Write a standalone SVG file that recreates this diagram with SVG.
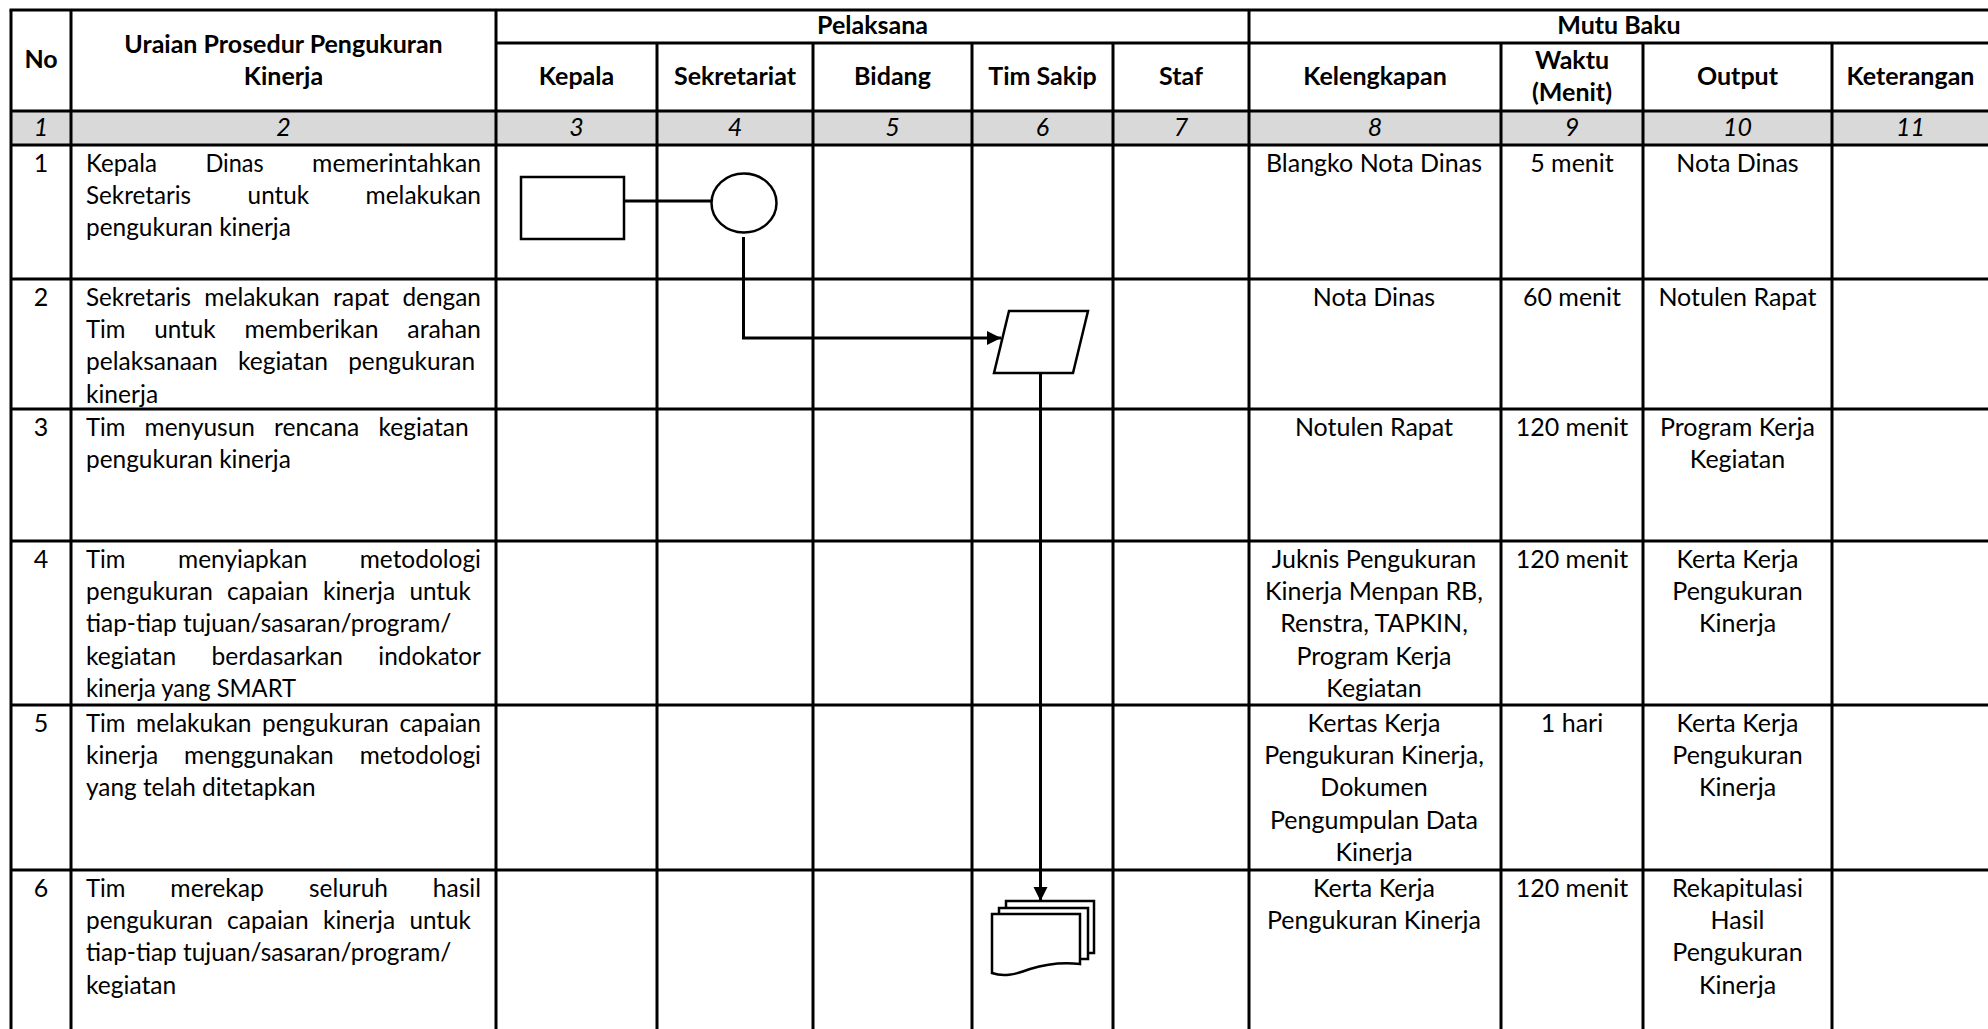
<svg xmlns="http://www.w3.org/2000/svg" width="1988" height="1029" viewBox="0 0 1988 1029">
<style>
text{font-family:Lato,"Liberation Sans",sans-serif;font-size:25px;fill:#000}
.b{font-weight:700}
.i{font-style:italic}
.c{text-anchor:middle}
.grid line{stroke:#000;stroke-width:3}
.shape{fill:#fff;stroke:#000;stroke-width:2.5}
.conn{fill:none;stroke:#000;stroke-width:3}
</style>
<defs>
<marker id="arrow" markerUnits="userSpaceOnUse" markerWidth="16" markerHeight="16" refX="14" refY="7" orient="auto">
<path d="M0,0 L14,7 L0,14 Z" fill="#000"/>
</marker>
</defs>
<rect width="1988" height="1029" fill="#fff"/>
<rect x="11" y="111" width="1990" height="34" fill="#d9d9d9"/>
<g id="table" class="grid">
<line x1="9.5" y1="10" x2="1995" y2="10"/>
<line x1="496" y1="43" x2="1995" y2="43"/>
<line x1="11" y1="111" x2="1995" y2="111"/>
<line x1="11" y1="145" x2="1995" y2="145"/>
<line x1="11" y1="279" x2="1995" y2="279"/>
<line x1="11" y1="409" x2="1995" y2="409"/>
<line x1="11" y1="541" x2="1995" y2="541"/>
<line x1="11" y1="705" x2="1995" y2="705"/>
<line x1="11" y1="870" x2="1995" y2="870"/>
<line x1="11" y1="10" x2="11" y2="1035"/>
<line x1="71" y1="10" x2="71" y2="1035"/>
<line x1="496" y1="10" x2="496" y2="1035"/>
<line x1="657" y1="43" x2="657" y2="1035"/>
<line x1="813" y1="43" x2="813" y2="1035"/>
<line x1="972" y1="43" x2="972" y2="1035"/>
<line x1="1113" y1="43" x2="1113" y2="1035"/>
<line x1="1249" y1="10" x2="1249" y2="1035"/>
<line x1="1501" y1="43" x2="1501" y2="1035"/>
<line x1="1643" y1="43" x2="1643" y2="1035"/>
<line x1="1832" y1="43" x2="1832" y2="1035"/>
</g>
<g id="header">
<text class="b c" x="41" y="68">No</text>
<text class="b c" x="283.5" y="53">Uraian Prosedur Pengukuran</text>
<text class="b c" x="283.5" y="85">Kinerja</text>
<text class="b c" x="872.5" y="34">Pelaksana</text>
<text class="b c" x="1619" y="34">Mutu Baku</text>
<text class="b c" x="576.5" y="85">Kepala</text>
<text class="b c" x="735" y="85">Sekretariat</text>
<text class="b c" x="892.5" y="85">Bidang</text>
<text class="b c" x="1042.5" y="85">Tim Sakip</text>
<text class="b c" x="1181" y="85">Staf</text>
<text class="b c" x="1375" y="85">Kelengkapan</text>
<text class="b c" x="1572" y="69">Waktu</text>
<text class="b c" x="1572" y="101">(Menit)</text>
<text class="b c" x="1737.5" y="85">Output</text>
<text class="b c" x="1910.5" y="85">Keterangan</text>
</g>
<g id="numbers">
<text class="i c" x="41" y="136">1</text>
<text class="i c" x="283.5" y="136">2</text>
<text class="i c" x="576.5" y="136">3</text>
<text class="i c" x="735" y="136">4</text>
<text class="i c" x="892.5" y="136">5</text>
<text class="i c" x="1042.5" y="136">6</text>
<text class="i c" x="1181" y="136">7</text>
<text class="i c" x="1375" y="136">8</text>
<text class="i c" x="1572" y="136">9</text>
<text class="i c" x="1737.5" y="136">10</text>
<text class="i c" x="1910.5" y="136">11</text>
</g>
<g id="row-numbers">
<text class="c" x="41" y="172">1</text>
<text class="c" x="41" y="306">2</text>
<text class="c" x="41" y="436">3</text>
<text class="c" x="41" y="568">4</text>
<text class="c" x="41" y="732">5</text>
<text class="c" x="41" y="897">6</text>
</g>
<g id="procedures">
<text x="86" y="172" textLength="71" lengthAdjust="spacingAndGlyphs">Kepala</text>
<text x="205.4" y="172" textLength="58.2" lengthAdjust="spacingAndGlyphs">Dinas</text>
<text x="312.1" y="172" textLength="168.9" lengthAdjust="spacingAndGlyphs">memerintahkan</text>
<text x="86" y="204.2" textLength="105.1" lengthAdjust="spacingAndGlyphs">Sekretaris</text>
<text x="247.6" y="204.2" textLength="61.5" lengthAdjust="spacingAndGlyphs">untuk</text>
<text x="365.5" y="204.2" textLength="115.5" lengthAdjust="spacingAndGlyphs">melakukan</text>
<text x="86" y="236.4" textLength="204.8" lengthAdjust="spacingAndGlyphs">pengukuran kinerja</text>

<text x="86" y="306" textLength="105.1" lengthAdjust="spacingAndGlyphs">Sekretaris</text>
<text x="204.3" y="306" textLength="115.5" lengthAdjust="spacingAndGlyphs">melakukan</text>
<text x="333" y="306" textLength="56.3" lengthAdjust="spacingAndGlyphs">rapat</text>
<text x="402.4" y="306" textLength="78.6" lengthAdjust="spacingAndGlyphs">dengan</text>
<text x="86" y="338.2" textLength="39.4" lengthAdjust="spacingAndGlyphs">Tim</text>
<text x="154.2" y="338.2" textLength="61.5" lengthAdjust="spacingAndGlyphs">untuk</text>
<text x="244.4" y="338.2" textLength="134.1" lengthAdjust="spacingAndGlyphs">memberikan</text>
<text x="407.3" y="338.2" textLength="73.7" lengthAdjust="spacingAndGlyphs">arahan</text>
<text x="86" y="370.4" textLength="131.7" lengthAdjust="spacingAndGlyphs">pelaksanaan</text>
<text x="237.9" y="370.4" textLength="90.2" lengthAdjust="spacingAndGlyphs">kegiatan</text>
<text x="348.2" y="370.4" textLength="126.8" lengthAdjust="spacingAndGlyphs">pengukuran</text>
<text x="86" y="402.6" textLength="72.1" lengthAdjust="spacingAndGlyphs">kinerja</text>

<text x="86" y="436" textLength="39.4" lengthAdjust="spacingAndGlyphs">Tim</text>
<text x="144.6" y="436" textLength="110.3" lengthAdjust="spacingAndGlyphs">menyusun</text>
<text x="274.1" y="436" textLength="85.2" lengthAdjust="spacingAndGlyphs">rencana</text>
<text x="378.5" y="436" textLength="90.2" lengthAdjust="spacingAndGlyphs">kegiatan</text>
<text x="86" y="468.2" textLength="204.8" lengthAdjust="spacingAndGlyphs">pengukuran kinerja</text>

<text x="86" y="568" textLength="39.4" lengthAdjust="spacingAndGlyphs">Tim</text>
<text x="178" y="568" textLength="129.1" lengthAdjust="spacingAndGlyphs">menyiapkan</text>
<text x="359.7" y="568" textLength="121.3" lengthAdjust="spacingAndGlyphs">metodologi</text>
<text x="86" y="600.2" textLength="126.8" lengthAdjust="spacingAndGlyphs">pengukuran</text>
<text x="227.1" y="600.2" textLength="81.6" lengthAdjust="spacingAndGlyphs">capaian</text>
<text x="323" y="600.2" textLength="72.1" lengthAdjust="spacingAndGlyphs">kinerja</text>
<text x="409.4" y="600.2" textLength="61.5" lengthAdjust="spacingAndGlyphs">untuk</text>
<text x="86" y="632.4" textLength="365.3" lengthAdjust="spacingAndGlyphs">tiap-tiap tujuan/sasaran/program/</text>
<text x="86" y="664.6" textLength="90.2" lengthAdjust="spacingAndGlyphs">kegiatan</text>
<text x="211.6" y="664.6" textLength="131.4" lengthAdjust="spacingAndGlyphs">berdasarkan</text>
<text x="378.3" y="664.6" textLength="102.7" lengthAdjust="spacingAndGlyphs">indokator</text>
<text x="86" y="696.8" textLength="210" lengthAdjust="spacingAndGlyphs">kinerja yang SMART</text>

<text x="86" y="732" textLength="39.4" lengthAdjust="spacingAndGlyphs">Tim</text>
<text x="136" y="732" textLength="115.5" lengthAdjust="spacingAndGlyphs">melakukan</text>
<text x="262.1" y="732" textLength="126.8" lengthAdjust="spacingAndGlyphs">pengukuran</text>
<text x="399.4" y="732" textLength="81.6" lengthAdjust="spacingAndGlyphs">capaian</text>
<text x="86" y="764.2" textLength="72.1" lengthAdjust="spacingAndGlyphs">kinerja</text>
<text x="184.1" y="764.2" textLength="149.6" lengthAdjust="spacingAndGlyphs">menggunakan</text>
<text x="359.7" y="764.2" textLength="121.3" lengthAdjust="spacingAndGlyphs">metodologi</text>
<text x="86" y="796.4" textLength="229.6" lengthAdjust="spacingAndGlyphs">yang telah ditetapkan</text>

<text x="86" y="897" textLength="39.4" lengthAdjust="spacingAndGlyphs">Tim</text>
<text x="170.3" y="897" textLength="93.7" lengthAdjust="spacingAndGlyphs">merekap</text>
<text x="308.9" y="897" textLength="79.1" lengthAdjust="spacingAndGlyphs">seluruh</text>
<text x="432.8" y="897" textLength="48.2" lengthAdjust="spacingAndGlyphs">hasil</text>
<text x="86" y="929.2" textLength="126.8" lengthAdjust="spacingAndGlyphs">pengukuran</text>
<text x="227.1" y="929.2" textLength="81.6" lengthAdjust="spacingAndGlyphs">capaian</text>
<text x="323" y="929.2" textLength="72.1" lengthAdjust="spacingAndGlyphs">kinerja</text>
<text x="409.4" y="929.2" textLength="61.5" lengthAdjust="spacingAndGlyphs">untuk</text>
<text x="86" y="961.4" textLength="365.3" lengthAdjust="spacingAndGlyphs">tiap-tiap tujuan/sasaran/program/</text>
<text x="86" y="993.6" textLength="90.2" lengthAdjust="spacingAndGlyphs">kegiatan</text>
</g>
<g id="mutu-baku">
<text class="c" x="1374" y="172">Blangko Nota Dinas</text>
<text class="c" x="1572" y="172">5 menit</text>
<text class="c" x="1737.5" y="172">Nota Dinas</text>

<text class="c" x="1374" y="306">Nota Dinas</text>
<text class="c" x="1572" y="306">60 menit</text>
<text class="c" x="1737.5" y="306">Notulen Rapat</text>

<text class="c" x="1374" y="436">Notulen Rapat</text>
<text class="c" x="1572" y="436">120 menit</text>
<text class="c" x="1737.5" y="436">Program Kerja</text>
<text class="c" x="1737.5" y="468.2">Kegiatan</text>

<text class="c" x="1374" y="568">Juknis Pengukuran</text>
<text class="c" x="1374" y="600.2">Kinerja Menpan RB,</text>
<text class="c" x="1374" y="632.4">Renstra, TAPKIN,</text>
<text class="c" x="1374" y="664.6">Program Kerja</text>
<text class="c" x="1374" y="696.8">Kegiatan</text>
<text class="c" x="1572" y="568">120 menit</text>
<text class="c" x="1737.5" y="568">Kerta Kerja</text>
<text class="c" x="1737.5" y="600.2">Pengukuran</text>
<text class="c" x="1737.5" y="632.4">Kinerja</text>

<text class="c" x="1374" y="732">Kertas Kerja</text>
<text class="c" x="1374" y="764.2">Pengukuran Kinerja,</text>
<text class="c" x="1374" y="796.4">Dokumen</text>
<text class="c" x="1374" y="828.6">Pengumpulan Data</text>
<text class="c" x="1374" y="860.8">Kinerja</text>
<text class="c" x="1572" y="732">1 hari</text>
<text class="c" x="1737.5" y="732">Kerta Kerja</text>
<text class="c" x="1737.5" y="764.2">Pengukuran</text>
<text class="c" x="1737.5" y="796.4">Kinerja</text>

<text class="c" x="1374" y="897">Kerta Kerja</text>
<text class="c" x="1374" y="929.2">Pengukuran Kinerja</text>
<text class="c" x="1572" y="897">120 menit</text>
<text class="c" x="1737.5" y="897">Rekapitulasi</text>
<text class="c" x="1737.5" y="929.2">Hasil</text>
<text class="c" x="1737.5" y="961.4">Pengukuran</text>
<text class="c" x="1737.5" y="993.6">Kinerja</text>
</g>
<g id="connectors">
<line class="conn" x1="624" y1="201" x2="711" y2="201"/>
<path class="conn" d="M743.5,237 V338 H1001" marker-end="url(#arrow)"/>
<path class="conn" d="M1040.5,373 V901" marker-end="url(#arrow)"/>
</g>
<g id="node-start">
<rect class="shape" x="521" y="177" width="103" height="62" stroke-width="3"/>
</g>
<g id="node-connector">
<ellipse class="shape" cx="744" cy="203" rx="32.5" ry="29.5" stroke-width="2"/>
</g>
<g id="node-data">
<polygon class="shape" points="1009,311 1088,311 1073,373 994,373"/>
</g>
<g id="node-documents">
<rect class="shape" x="1006" y="901" width="88" height="52"/>
<rect class="shape" x="999" y="908" width="89" height="51"/>
<path class="shape" d="M992,914 H1080 V964 C1062,962 1046,964 1030,969 C1014,975 1003,977 992,973 Z"/>
</g>
</svg>
